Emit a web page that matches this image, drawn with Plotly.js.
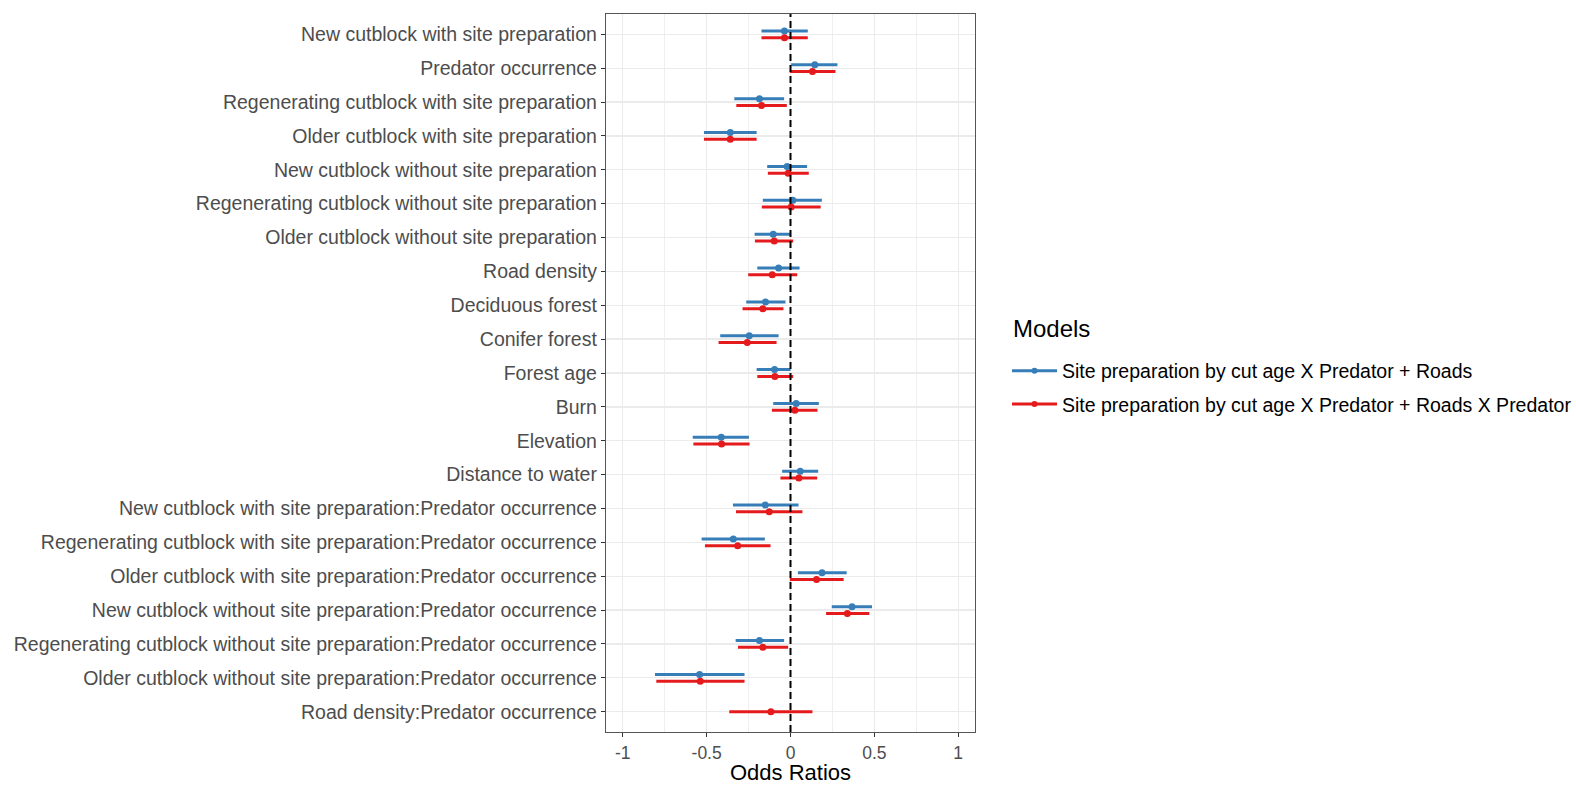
<!DOCTYPE html>
<html>
<head>
<meta charset="utf-8">
<script src="https://cdn.plot.ly/plotly-3.0.1.min.js"></script>
<style>html,body{margin:0;padding:0;background:#fff;}#chart{width:1576px;height:787px;}</style>
</head>
<body>
<div id="chart"></div>
<script>
const terms = [
  "New cutblock with site preparation",
  "Predator occurrence",
  "Regenerating cutblock with site preparation",
  "Older cutblock with site preparation",
  "New cutblock without site preparation",
  "Regenerating cutblock without site preparation",
  "Older cutblock without site preparation",
  "Road density",
  "Deciduous forest",
  "Conifer forest",
  "Forest age",
  "Burn",
  "Elevation",
  "Distance to water",
  "New cutblock with site preparation:Predator occurrence",
  "Regenerating cutblock with site preparation:Predator occurrence",
  "Older cutblock with site preparation:Predator occurrence",
  "New cutblock without site preparation:Predator occurrence",
  "Regenerating cutblock without site preparation:Predator occurrence",
  "Older cutblock without site preparation:Predator occurrence",
  "Road density:Predator occurrence"
];

const xTitle = "Odds Ratios";
const legendTitle = "Models";
const modelNames = [
  "Site preparation by cut age X Predator + Roads",
  "Site preparation by cut age X Predator + Roads X Predator"
];

// Model 1 (blue)
const m1Est = [-0.036, 0.145, -0.185, -0.359, -0.020, 0.014, -0.103, -0.071, -0.149, -0.246, -0.095, 0.034, -0.413, 0.058, -0.151, -0.341, 0.188, 0.367, -0.185, -0.542, null];
const m1Low = [-0.173, 0.004, -0.335, -0.516, -0.139, -0.165, -0.214, -0.198, -0.264, -0.419, -0.202, -0.103, -0.583, -0.050, -0.343, -0.530, 0.044, 0.246, -0.327, -0.808, null];
const m1High = [0.103, 0.280, -0.038, -0.202, 0.099, 0.187, 0.000, 0.054, -0.030, -0.071, 0.000, 0.169, -0.248, 0.165, 0.048, -0.153, 0.335, 0.486, -0.038, -0.274, null];

// Model 2 (red)
const m2Est = [-0.036, 0.131, -0.173, -0.359, -0.014, 0.004, -0.097, -0.109, -0.165, -0.258, -0.093, 0.026, -0.411, 0.050, -0.127, -0.315, 0.155, 0.339, -0.165, -0.538, -0.117];
const m2Low = [-0.173, -0.004, -0.323, -0.516, -0.135, -0.171, -0.212, -0.252, -0.286, -0.429, -0.198, -0.111, -0.579, -0.060, -0.325, -0.510, -0.004, 0.212, -0.313, -0.800, -0.365];
const m2High = [0.103, 0.268, -0.022, -0.202, 0.109, 0.180, 0.016, 0.040, -0.042, -0.083, 0.016, 0.161, -0.244, 0.159, 0.071, -0.119, 0.317, 0.470, -0.014, -0.274, 0.131];

const xTickVals = [-1, -0.5, 0, 0.5, 1];
const xTickText = ["-1", "-0.5", "0", "0.5", "1"];

const colors = ["#377EB8", "#E41A1C"];

const rows = terms.map((t, i) => i);
const dodge = 0.1;

function build(est, low, high, k) {
  const xs = [], ys = [], plus = [], minus = [];
  est.forEach((v, i) => {
    if (v === null) return;
    const both = m1Est[i] !== null && m2Est[i] !== null;
    const off = both ? (k === 0 ? -dodge : dodge) : 0;
    xs.push(v);
    ys.push(rows[i] + off);
    plus.push(high[i] - v);
    minus.push(v - low[i]);
  });
  return {
    type: "scatter", mode: "markers", x: xs, y: ys,
    marker: {color: colors[k], size: 7},
    error_x: {type: "data", symmetric: false, array: plus, arrayminus: minus, width: 0, thickness: 3, color: colors[k]},
    showlegend: false, hoverinfo: "x+y", name: modelNames[k]
  };
}

const traces = [
  build(m1Est, m1Low, m1High, 0),
  build(m2Est, m2Low, m2High, 1),
  {type: "scatter", mode: "lines+markers", x: [null], y: [null], name: modelNames[0], legendgroup: "a",
   line: {color: colors[0], width: 3}, marker: {color: colors[0], size: 6}, showlegend: true},
  {type: "scatter", mode: "lines+markers", x: [null], y: [null], name: modelNames[1], legendgroup: "b",
   line: {color: colors[1], width: 3}, marker: {color: colors[1], size: 6}, showlegend: true}
];

const layout = {
  width: 1576, height: 787,
  margin: {l: 606, r: 601, t: 14, b: 55, autoexpand: false},
  paper_bgcolor: "#ffffff", plot_bgcolor: "#ffffff",
  font: {family: "Liberation Sans, Arial, sans-serif", color: "#4D4D4D"},
  xaxis: {
    range: [-1.1, 1.1], tickvals: xTickVals, ticktext: xTickText,
    showgrid: true, gridcolor: "#EBEBEB", gridwidth: 1.3,
    minor: {tickvals: [-0.75, -0.25, 0.25, 0.75], showgrid: true, gridcolor: "#EFEFEF", gridwidth: 1, ticklen: 0},
    zeroline: false, showline: true, mirror: true, linecolor: "#555555", linewidth: 1.2,
    ticks: "outside", ticklen: 4, tickcolor: "#333333", tickwidth: 1,
    ticklabelstandoff: 1,
    tickfont: {size: 17.5, color: "#4D4D4D"}
  },
  yaxis: {
    range: [20.6, -0.6], tickvals: rows, ticktext: terms,
    showgrid: true, gridcolor: "#EBEBEB", gridwidth: 1.3,
    zeroline: false, showline: true, mirror: true, linecolor: "#555555", linewidth: 1.2,
    ticks: "outside", ticklen: 4, tickcolor: "#333333", tickwidth: 1,
    tickfont: {size: 19.5, color: "#4D4D4D"}
  },
  shapes: [{type: "line", xref: "x", yref: "paper", x0: 0, x1: 0, y0: 0, y1: 1,
            line: {color: "#000000", width: 2, dash: "7px,4px"}}],
  annotations: [
    {text: legendTitle, xref: "paper", yref: "paper", x: 1.0976, y: 0.5613,
     xanchor: "left", yanchor: "middle", showarrow: false,
     font: {size: 24, color: "#000000"}},
    {text: xTitle, xref: "paper", yref: "paper", x: 0.5, y: -0.0571,
     xanchor: "center", yanchor: "middle", showarrow: false,
     font: {size: 22, color: "#000000"}}
  ],
  legend: {
    x: 1.0867, xanchor: "left", y: 0.4798, yanchor: "middle",
    font: {size: 19.5, color: "#000000"}, tracegroupgap: 5, itemwidth: 45
  },
  showlegend: true
};

Plotly.newPlot("chart", traces, layout, {displayModeBar: false, staticPlot: true});
</script>
</body>
</html>
